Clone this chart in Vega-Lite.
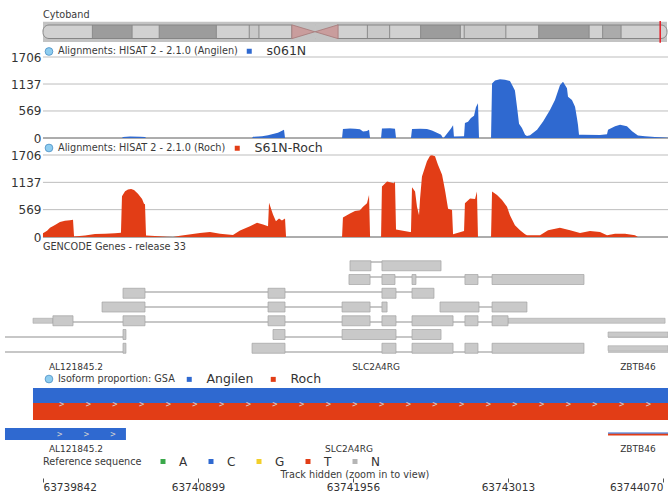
{
  "$schema": "https://vega.github.io/schema/vega-lite/v6.json",
  "width": 668,
  "height": 492,
  "autosize": "none",
  "padding": 0,
  "background": "#ffffff",
  "config": {
    "view": {"stroke": null},
    "font": "DejaVu Sans",
    "legend": {
      "orient": "none",
      "direction": "horizontal",
      "titleOrient": "left",
      "titleFontWeight": "normal",
      "titleFontSize": 9.7,
      "titleColor": "#3a3a3a",
      "titleLimit": 400,
      "labelFontSize": 12.5,
      "labelColor": "#333333",
      "labelLimit": 200,
      "symbolType": "square",
      "symbolSize": 25,
      "symbolStrokeWidth": 0,
      "symbolOpacity": 1,
      "labelOffset": 11,
      "titlePadding": 5,
      "padding": 0
    }
  },
  "datasets": {
    "chromosome": [{"chrom": "chr20", "start": 0, "end": 64444167}],
    "viewport": [{"chrom": "chr20", "start": 63739549, "end": 63744105}],
    "cytobands": [
      {"name": "p13", "start": 0, "end": 5100000, "stain": "gneg"},
      {"name": "p12.3", "start": 5100000, "end": 9200000, "stain": "gpos75"},
      {"name": "p12.2", "start": 9200000, "end": 12000000, "stain": "gneg"},
      {"name": "p12.1", "start": 12000000, "end": 17900000, "stain": "gpos75"},
      {"name": "p11.23", "start": 17900000, "end": 21300000, "stain": "gneg"},
      {"name": "p11.22", "start": 21300000, "end": 22300000, "stain": "gpos25"},
      {"name": "p11.21", "start": 22300000, "end": 25700000, "stain": "gneg"},
      {"name": "p11.1", "start": 25700000, "end": 28100000, "stain": "acen"},
      {"name": "q11.1", "start": 28100000, "end": 30400000, "stain": "acen"},
      {"name": "q11.21", "start": 30400000, "end": 33500000, "stain": "gneg"},
      {"name": "q11.22", "start": 33500000, "end": 35800000, "stain": "gpos25"},
      {"name": "q11.23", "start": 35800000, "end": 39000000, "stain": "gneg"},
      {"name": "q12", "start": 39000000, "end": 43100000, "stain": "gpos75"},
      {"name": "q13.11", "start": 43100000, "end": 43500000, "stain": "gneg"},
      {"name": "q13.12", "start": 43500000, "end": 47800000, "stain": "gpos25"},
      {"name": "q13.13", "start": 47800000, "end": 51200000, "stain": "gneg"},
      {"name": "q13.2", "start": 51200000, "end": 56400000, "stain": "gpos75"},
      {"name": "q13.31", "start": 56400000, "end": 57800000, "stain": "gneg"},
      {"name": "q13.32", "start": 57800000, "end": 59700000, "stain": "gpos50"},
      {"name": "q13.33", "start": 59700000, "end": 64444167, "stain": "gneg"}
    ],
    "ticks": [{"tick": 0}, {"tick": 569}, {"tick": 1137}, {"tick": 1706}],
    "coverage": [
      {"sample": "s061N", "pos": 63739842, "depth": 0},
      {"sample": "s061N", "pos": 63740381, "depth": 0},
      {"sample": "s061N", "pos": 63740388, "depth": 20},
      {"sample": "s061N", "pos": 63740436, "depth": 30},
      {"sample": "s061N", "pos": 63740504, "depth": 28},
      {"sample": "s061N", "pos": 63740538, "depth": 20},
      {"sample": "s061N", "pos": 63740545, "depth": 0},
      {"sample": "s061N", "pos": 63741268, "depth": 0},
      {"sample": "s061N", "pos": 63741275, "depth": 25},
      {"sample": "s061N", "pos": 63741336, "depth": 35},
      {"sample": "s061N", "pos": 63741377, "depth": 60},
      {"sample": "s061N", "pos": 63741404, "depth": 80},
      {"sample": "s061N", "pos": 63741445, "depth": 110},
      {"sample": "s061N", "pos": 63741486, "depth": 175},
      {"sample": "s061N", "pos": 63741493, "depth": 0},
      {"sample": "s061N", "pos": 63741882, "depth": 0},
      {"sample": "s061N", "pos": 63741888, "depth": 190},
      {"sample": "s061N", "pos": 63741936, "depth": 200},
      {"sample": "s061N", "pos": 63741970, "depth": 195},
      {"sample": "s061N", "pos": 63742004, "depth": 185},
      {"sample": "s061N", "pos": 63742025, "depth": 135},
      {"sample": "s061N", "pos": 63742052, "depth": 150},
      {"sample": "s061N", "pos": 63742066, "depth": 175},
      {"sample": "s061N", "pos": 63742073, "depth": 0},
      {"sample": "s061N", "pos": 63742148, "depth": 0},
      {"sample": "s061N", "pos": 63742154, "depth": 200},
      {"sample": "s061N", "pos": 63742209, "depth": 205},
      {"sample": "s061N", "pos": 63742243, "depth": 195},
      {"sample": "s061N", "pos": 63742250, "depth": 0},
      {"sample": "s061N", "pos": 63742352, "depth": 0},
      {"sample": "s061N", "pos": 63742359, "depth": 190},
      {"sample": "s061N", "pos": 63742414, "depth": 195},
      {"sample": "s061N", "pos": 63742461, "depth": 190},
      {"sample": "s061N", "pos": 63742495, "depth": 160},
      {"sample": "s061N", "pos": 63742536, "depth": 100},
      {"sample": "s061N", "pos": 63742557, "depth": 70},
      {"sample": "s061N", "pos": 63742570, "depth": 0},
      {"sample": "s061N", "pos": 63742577, "depth": 10},
      {"sample": "s061N", "pos": 63742605, "depth": 120},
      {"sample": "s061N", "pos": 63742625, "depth": 200},
      {"sample": "s061N", "pos": 63742639, "depth": 270},
      {"sample": "s061N", "pos": 63742645, "depth": 30},
      {"sample": "s061N", "pos": 63742714, "depth": 35},
      {"sample": "s061N", "pos": 63742720, "depth": 315},
      {"sample": "s061N", "pos": 63742741, "depth": 340},
      {"sample": "s061N", "pos": 63742761, "depth": 420},
      {"sample": "s061N", "pos": 63742782, "depth": 470},
      {"sample": "s061N", "pos": 63742795, "depth": 650},
      {"sample": "s061N", "pos": 63742809, "depth": 730},
      {"sample": "s061N", "pos": 63742816, "depth": 0},
      {"sample": "s061N", "pos": 63742898, "depth": 0},
      {"sample": "s061N", "pos": 63742905, "depth": 1150},
      {"sample": "s061N", "pos": 63742925, "depth": 1210},
      {"sample": "s061N", "pos": 63742959, "depth": 1235},
      {"sample": "s061N", "pos": 63742993, "depth": 1225},
      {"sample": "s061N", "pos": 63743027, "depth": 1200},
      {"sample": "s061N", "pos": 63743041, "depth": 1120},
      {"sample": "s061N", "pos": 63743061, "depth": 1000},
      {"sample": "s061N", "pos": 63743075, "depth": 660},
      {"sample": "s061N", "pos": 63743089, "depth": 300},
      {"sample": "s061N", "pos": 63743109, "depth": 210},
      {"sample": "s061N", "pos": 63743130, "depth": 70},
      {"sample": "s061N", "pos": 63743143, "depth": 40},
      {"sample": "s061N", "pos": 63743164, "depth": 60},
      {"sample": "s061N", "pos": 63743212, "depth": 175},
      {"sample": "s061N", "pos": 63743253, "depth": 350},
      {"sample": "s061N", "pos": 63743300, "depth": 590},
      {"sample": "s061N", "pos": 63743334, "depth": 800},
      {"sample": "s061N", "pos": 63743368, "depth": 1110},
      {"sample": "s061N", "pos": 63743389, "depth": 1185},
      {"sample": "s061N", "pos": 63743416, "depth": 1050},
      {"sample": "s061N", "pos": 63743423, "depth": 870},
      {"sample": "s061N", "pos": 63743450, "depth": 800},
      {"sample": "s061N", "pos": 63743471, "depth": 660},
      {"sample": "s061N", "pos": 63743484, "depth": 420},
      {"sample": "s061N", "pos": 63743491, "depth": 280},
      {"sample": "s061N", "pos": 63743498, "depth": 70},
      {"sample": "s061N", "pos": 63743525, "depth": 70},
      {"sample": "s061N", "pos": 63743641, "depth": 65},
      {"sample": "s061N", "pos": 63743689, "depth": 80},
      {"sample": "s061N", "pos": 63743696, "depth": 175},
      {"sample": "s061N", "pos": 63743744, "depth": 245},
      {"sample": "s061N", "pos": 63743778, "depth": 280},
      {"sample": "s061N", "pos": 63743825, "depth": 245},
      {"sample": "s061N", "pos": 63743860, "depth": 140},
      {"sample": "s061N", "pos": 63743900, "depth": 55},
      {"sample": "s061N", "pos": 63743948, "depth": 35},
      {"sample": "s061N", "pos": 63744016, "depth": 20},
      {"sample": "s061N", "pos": 63744085, "depth": 10},
      {"sample": "s061N", "pos": 63744105, "depth": 5},
      {"sample": "S61N-Roch", "pos": 63739842, "depth": 80},
      {"sample": "S61N-Roch", "pos": 63739870, "depth": 130},
      {"sample": "S61N-Roch", "pos": 63739890, "depth": 190},
      {"sample": "S61N-Roch", "pos": 63739924, "depth": 250},
      {"sample": "S61N-Roch", "pos": 63739958, "depth": 310},
      {"sample": "S61N-Roch", "pos": 63739992, "depth": 340},
      {"sample": "S61N-Roch", "pos": 63740026, "depth": 350},
      {"sample": "S61N-Roch", "pos": 63740047, "depth": 360},
      {"sample": "S61N-Roch", "pos": 63740054, "depth": 10},
      {"sample": "S61N-Roch", "pos": 63740129, "depth": 30},
      {"sample": "S61N-Roch", "pos": 63740197, "depth": 60},
      {"sample": "S61N-Roch", "pos": 63740265, "depth": 70},
      {"sample": "S61N-Roch", "pos": 63740333, "depth": 80},
      {"sample": "S61N-Roch", "pos": 63740374, "depth": 90},
      {"sample": "S61N-Roch", "pos": 63740381, "depth": 850},
      {"sample": "S61N-Roch", "pos": 63740402, "depth": 950},
      {"sample": "S61N-Roch", "pos": 63740422, "depth": 990},
      {"sample": "S61N-Roch", "pos": 63740443, "depth": 1000},
      {"sample": "S61N-Roch", "pos": 63740463, "depth": 980},
      {"sample": "S61N-Roch", "pos": 63740490, "depth": 900},
      {"sample": "S61N-Roch", "pos": 63740518, "depth": 790},
      {"sample": "S61N-Roch", "pos": 63740531, "depth": 690},
      {"sample": "S61N-Roch", "pos": 63740538, "depth": 680},
      {"sample": "S61N-Roch", "pos": 63740545, "depth": 30},
      {"sample": "S61N-Roch", "pos": 63740606, "depth": 20},
      {"sample": "S61N-Roch", "pos": 63740688, "depth": 5},
      {"sample": "S61N-Roch", "pos": 63740729, "depth": 0},
      {"sample": "S61N-Roch", "pos": 63740777, "depth": 28},
      {"sample": "S61N-Roch", "pos": 63740913, "depth": 84},
      {"sample": "S61N-Roch", "pos": 63740981, "depth": 105},
      {"sample": "S61N-Roch", "pos": 63741050, "depth": 70},
      {"sample": "S61N-Roch", "pos": 63741138, "depth": 42},
      {"sample": "S61N-Roch", "pos": 63741186, "depth": 133},
      {"sample": "S61N-Roch", "pos": 63741254, "depth": 225},
      {"sample": "S61N-Roch", "pos": 63741302, "depth": 295},
      {"sample": "S61N-Roch", "pos": 63741343, "depth": 260},
      {"sample": "S61N-Roch", "pos": 63741377, "depth": 225},
      {"sample": "S61N-Roch", "pos": 63741384, "depth": 714},
      {"sample": "S61N-Roch", "pos": 63741411, "depth": 470},
      {"sample": "S61N-Roch", "pos": 63741431, "depth": 330},
      {"sample": "S61N-Roch", "pos": 63741452, "depth": 385},
      {"sample": "S61N-Roch", "pos": 63741472, "depth": 345},
      {"sample": "S61N-Roch", "pos": 63741493, "depth": 385},
      {"sample": "S61N-Roch", "pos": 63741500, "depth": 0},
      {"sample": "S61N-Roch", "pos": 63741882, "depth": 0},
      {"sample": "S61N-Roch", "pos": 63741888, "depth": 405},
      {"sample": "S61N-Roch", "pos": 63741936, "depth": 490},
      {"sample": "S61N-Roch", "pos": 63741970, "depth": 540},
      {"sample": "S61N-Roch", "pos": 63742004, "depth": 555},
      {"sample": "S61N-Roch", "pos": 63742025, "depth": 630},
      {"sample": "S61N-Roch", "pos": 63742052, "depth": 700},
      {"sample": "S61N-Roch", "pos": 63742066, "depth": 875},
      {"sample": "S61N-Roch", "pos": 63742073, "depth": 0},
      {"sample": "S61N-Roch", "pos": 63742148, "depth": 0},
      {"sample": "S61N-Roch", "pos": 63742154, "depth": 1050},
      {"sample": "S61N-Roch", "pos": 63742189, "depth": 1155},
      {"sample": "S61N-Roch", "pos": 63742236, "depth": 1120},
      {"sample": "S61N-Roch", "pos": 63742243, "depth": 1155},
      {"sample": "S61N-Roch", "pos": 63742250, "depth": 155},
      {"sample": "S61N-Roch", "pos": 63742345, "depth": 105},
      {"sample": "S61N-Roch", "pos": 63742352, "depth": 105},
      {"sample": "S61N-Roch", "pos": 63742359, "depth": 1035},
      {"sample": "S61N-Roch", "pos": 63742380, "depth": 945},
      {"sample": "S61N-Roch", "pos": 63742393, "depth": 630},
      {"sample": "S61N-Roch", "pos": 63742407, "depth": 455},
      {"sample": "S61N-Roch", "pos": 63742414, "depth": 800},
      {"sample": "S61N-Roch", "pos": 63742427, "depth": 1260},
      {"sample": "S61N-Roch", "pos": 63742461, "depth": 1575},
      {"sample": "S61N-Roch", "pos": 63742482, "depth": 1690},
      {"sample": "S61N-Roch", "pos": 63742495, "depth": 1700},
      {"sample": "S61N-Roch", "pos": 63742516, "depth": 1680},
      {"sample": "S61N-Roch", "pos": 63742536, "depth": 1505},
      {"sample": "S61N-Roch", "pos": 63742564, "depth": 1295},
      {"sample": "S61N-Roch", "pos": 63742584, "depth": 980},
      {"sample": "S61N-Roch", "pos": 63742605, "depth": 590},
      {"sample": "S61N-Roch", "pos": 63742632, "depth": 560},
      {"sample": "S61N-Roch", "pos": 63742639, "depth": 56},
      {"sample": "S61N-Roch", "pos": 63742714, "depth": 126},
      {"sample": "S61N-Roch", "pos": 63742720, "depth": 700},
      {"sample": "S61N-Roch", "pos": 63742755, "depth": 800},
      {"sample": "S61N-Roch", "pos": 63742789, "depth": 790},
      {"sample": "S61N-Roch", "pos": 63742802, "depth": 945},
      {"sample": "S61N-Roch", "pos": 63742809, "depth": 0},
      {"sample": "S61N-Roch", "pos": 63742898, "depth": 0},
      {"sample": "S61N-Roch", "pos": 63742905, "depth": 945},
      {"sample": "S61N-Roch", "pos": 63742939, "depth": 875},
      {"sample": "S61N-Roch", "pos": 63742973, "depth": 770},
      {"sample": "S61N-Roch", "pos": 63743007, "depth": 630},
      {"sample": "S61N-Roch", "pos": 63743027, "depth": 455},
      {"sample": "S61N-Roch", "pos": 63743061, "depth": 245},
      {"sample": "S61N-Roch", "pos": 63743096, "depth": 140},
      {"sample": "S61N-Roch", "pos": 63743130, "depth": 56},
      {"sample": "S61N-Roch", "pos": 63743143, "depth": 35},
      {"sample": "S61N-Roch", "pos": 63743232, "depth": 35},
      {"sample": "S61N-Roch", "pos": 63743287, "depth": 140},
      {"sample": "S61N-Roch", "pos": 63743368, "depth": 195},
      {"sample": "S61N-Roch", "pos": 63743437, "depth": 140},
      {"sample": "S61N-Roch", "pos": 63743505, "depth": 84},
      {"sample": "S61N-Roch", "pos": 63743573, "depth": 126},
      {"sample": "S61N-Roch", "pos": 63743641, "depth": 105},
      {"sample": "S61N-Roch", "pos": 63743689, "depth": 35},
      {"sample": "S61N-Roch", "pos": 63743744, "depth": 70},
      {"sample": "S61N-Roch", "pos": 63743812, "depth": 70},
      {"sample": "S61N-Roch", "pos": 63743880, "depth": 35},
      {"sample": "S61N-Roch", "pos": 63743900, "depth": 0},
      {"sample": "S61N-Roch", "pos": 63744105, "depth": 0}
    ],
    "transcripts": [
      {"gene": "SLC2A4RG", "row": 1, "start": 63741936, "end": 63742557},
      {"gene": "SLC2A4RG", "row": 2, "start": 63741929, "end": 63743532},
      {"gene": "SLC2A4RG", "row": 3, "start": 63740388, "end": 63742509},
      {"gene": "SLC2A4RG", "row": 4, "start": 63740245, "end": 63742189},
      {"gene": "SLC2A4RG", "row": 4, "start": 63742550, "end": 63743143},
      {"gene": "SLC2A4RG", "row": 5, "start": 63739774, "end": 63744085},
      {"gene": "AL121845.2", "row": 6, "start": 63739583, "end": 63740408},
      {"gene": "SLC2A4RG", "row": 6, "start": 63741411, "end": 63742557},
      {"gene": "ZBTB46", "row": 6, "start": 63743696, "end": 63744105},
      {"gene": "AL121845.2", "row": 7, "start": 63739583, "end": 63740408},
      {"gene": "SLC2A4RG", "row": 7, "start": 63741268, "end": 63743532},
      {"gene": "ZBTB46", "row": 7, "start": 63743696, "end": 63744105}
    ],
    "exons": [
      {"row": 1, "start": 63741936, "end": 63742079, "part": "exon"},
      {"row": 1, "start": 63742154, "end": 63742557, "part": "exon"},
      {"row": 2, "start": 63741929, "end": 63742073, "part": "exon"},
      {"row": 2, "start": 63742154, "end": 63742243, "part": "exon"},
      {"row": 2, "start": 63742359, "end": 63742386, "part": "exon"},
      {"row": 2, "start": 63742720, "end": 63742809, "part": "exon"},
      {"row": 2, "start": 63742905, "end": 63743532, "part": "exon"},
      {"row": 3, "start": 63740388, "end": 63740538, "part": "exon"},
      {"row": 3, "start": 63741377, "end": 63741493, "part": "exon"},
      {"row": 3, "start": 63742154, "end": 63742250, "part": "exon"},
      {"row": 3, "start": 63742359, "end": 63742509, "part": "exon"},
      {"row": 4, "start": 63740245, "end": 63740538, "part": "exon"},
      {"row": 4, "start": 63741377, "end": 63741493, "part": "exon"},
      {"row": 4, "start": 63741882, "end": 63742073, "part": "exon"},
      {"row": 4, "start": 63742154, "end": 63742189, "part": "exon"},
      {"row": 4, "start": 63742550, "end": 63742816, "part": "exon"},
      {"row": 4, "start": 63742905, "end": 63743143, "part": "exon"},
      {"row": 5, "start": 63739774, "end": 63739910, "part": "UTR"},
      {"row": 5, "start": 63739910, "end": 63740047, "part": "exon"},
      {"row": 5, "start": 63740388, "end": 63740538, "part": "exon"},
      {"row": 5, "start": 63741377, "end": 63741493, "part": "exon"},
      {"row": 5, "start": 63741882, "end": 63742073, "part": "exon"},
      {"row": 5, "start": 63742154, "end": 63742250, "part": "exon"},
      {"row": 5, "start": 63742359, "end": 63742639, "part": "exon"},
      {"row": 5, "start": 63742720, "end": 63742809, "part": "exon"},
      {"row": 5, "start": 63742905, "end": 63743014, "part": "exon"},
      {"row": 5, "start": 63743014, "end": 63744085, "part": "UTR"},
      {"row": 6, "start": 63740388, "end": 63740408, "part": "exon"},
      {"row": 6, "start": 63741411, "end": 63741493, "part": "exon"},
      {"row": 6, "start": 63741882, "end": 63742250, "part": "exon"},
      {"row": 6, "start": 63742359, "end": 63742557, "part": "exon"},
      {"row": 6, "start": 63743696, "end": 63744105, "part": "UTR"},
      {"row": 7, "start": 63740388, "end": 63740408, "part": "exon"},
      {"row": 7, "start": 63741268, "end": 63741493, "part": "exon"},
      {"row": 7, "start": 63742154, "end": 63742250, "part": "exon"},
      {"row": 7, "start": 63742359, "end": 63742639, "part": "exon"},
      {"row": 7, "start": 63742720, "end": 63742809, "part": "exon"},
      {"row": 7, "start": 63742905, "end": 63743532, "part": "exon"},
      {"row": 7, "start": 63743696, "end": 63744105, "part": "UTR"}
    ],
    "gene_labels": [
      {"gene": "AL121845.2", "pos": 63740067},
      {"gene": "SLC2A4RG", "pos": 63742114},
      {"gene": "ZBTB46", "pos": 63743900}
    ],
    "isoforms": [
      {"gene": "SLC2A4RG", "sample": "Angilen", "start": 63739774, "end": 63744105, "proportion": 0.47, "lane": 1},
      {"gene": "SLC2A4RG", "sample": "Roch", "start": 63739774, "end": 63744105, "proportion": 0.53, "lane": 1},
      {"gene": "AL121845.2", "sample": "Angilen", "start": 63739583, "end": 63740408, "proportion": 0.375, "lane": 2},
      {"gene": "AL121845.2", "sample": "Roch", "start": 63739583, "end": 63740408, "proportion": 0, "lane": 2},
      {"gene": "ZBTB46", "sample": "Angilen", "start": 63743696, "end": 63744105, "proportion": 0.04, "lane": 2},
      {"gene": "ZBTB46", "sample": "Roch", "start": 63743696, "end": 63744105, "proportion": 0.05, "lane": 2}
    ],
    "isoform_labels": [
      {"gene": "AL121845.2", "pos": 63740067},
      {"gene": "SLC2A4RG", "pos": 63741929},
      {"gene": "ZBTB46", "pos": 63743900}
    ],
    "bases": [
      {"base": "A"}, {"base": "C"}, {"base": "G"}, {"base": "T"}, {"base": "N"}
    ]
  },
  "resolve": {"scale": {"x": "independent", "y": "independent", "color": "independent", "shape": "independent"}},
  "layer": [
    {
      "data": {"name": "chromosome"},
      "mark": {"type": "rect", "color": "#c3c3c3"},
      "encoding": {
        "x": {"field": "start", "type": "quantitative", "scale": {"domain": [0, 64444167], "range": [43, 667]}, "axis": null},
        "x2": {"field": "end"},
        "y": {"datum": -0.25, "type": "quantitative", "scale": {"domain": [0, 1], "range": [38.5, 25]}, "axis": null},
        "y2": {"datum": 1.25}
      }
    },
    {
      "data": {"name": "chromosome"},
      "mark": {"type": "rect", "color": "#d1d1d1", "cornerRadius": 6},
      "encoding": {
        "x": {"field": "start", "type": "quantitative", "scale": {"domain": [0, 64444167], "range": [43, 667]}, "axis": null},
        "x2": {"field": "end"},
        "y": {"datum": 0, "type": "quantitative", "scale": {"domain": [0, 1], "range": [38.5, 25]}, "axis": null},
        "y2": {"datum": 1}
      }
    },
    {
      "data": {"name": "cytobands"},
      "transform": [{"filter": "datum.stain !== 'gneg' && datum.stain !== 'acen'"}],
      "mark": {"type": "rect"},
      "encoding": {
        "x": {"field": "start", "type": "quantitative", "scale": {"domain": [0, 64444167], "range": [43, 667]}, "axis": null},
        "x2": {"field": "end"},
        "y": {"datum": 0, "type": "quantitative", "scale": {"domain": [0, 1], "range": [38.5, 25]}, "axis": null},
        "y2": {"datum": 1},
        "color": {"field": "stain", "type": "nominal", "scale": {"domain": ["gpos25", "gpos50", "gpos75"], "range": ["#c9c9c9", "#ababab", "#9c9c9c"]}, "legend": null}
      }
    },
    {
      "data": {"name": "cytobands"},
      "transform": [{"filter": "datum.start > 0 && datum.name !== 'q11.1'"}],
      "mark": {"type": "rule", "color": "#8a8a8a", "strokeWidth": 1},
      "encoding": {
        "x": {"field": "start", "type": "quantitative", "scale": {"domain": [0, 64444167], "range": [43, 667]}, "axis": null},
        "y": {"datum": 0, "type": "quantitative", "scale": {"domain": [0, 1], "range": [38.5, 25]}, "axis": null},
        "y2": {"datum": 1}
      }
    },
    {
      "data": {"name": "chromosome"},
      "mark": {"type": "rect", "filled": false, "stroke": "#858585", "strokeWidth": 1, "cornerRadius": 6},
      "encoding": {
        "x": {"field": "start", "type": "quantitative", "scale": {"domain": [0, 64444167], "range": [43, 667]}, "axis": null},
        "x2": {"field": "end"},
        "y": {"datum": 0, "type": "quantitative", "scale": {"domain": [0, 1], "range": [38.5, 25]}, "axis": null},
        "y2": {"datum": 1}
      }
    },
    {
      "data": {"name": "cytobands"},
      "transform": [{"filter": "datum.stain === 'acen'"}],
      "mark": {"type": "rect", "color": "#c3c3c3"},
      "encoding": {
        "x": {"field": "start", "type": "quantitative", "scale": {"domain": [0, 64444167], "range": [43, 667]}, "axis": null},
        "x2": {"field": "end"},
        "y": {"datum": -0.08, "type": "quantitative", "scale": {"domain": [0, 1], "range": [38.5, 25]}, "axis": null},
        "y2": {"datum": 1.08}
      }
    },
    {
      "data": {"name": "cytobands"},
      "transform": [{"filter": "datum.stain === 'acen'"}],
      "mark": {"type": "point", "filled": true, "size": 530, "opacity": 1, "fill": "#c99d9d", "stroke": "#a57878", "strokeWidth": 0.8},
      "encoding": {
        "x": {"field": "start", "type": "quantitative", "scale": {"domain": [0, 64444167], "range": [43, 667]}, "axis": null},
        "y": {"datum": 0.5, "type": "quantitative", "scale": {"domain": [0, 1], "range": [38.5, 25]}, "axis": null},
        "shape": {"field": "name", "type": "nominal", "scale": {"domain": ["p11.1", "q11.1"], "range": ["M0,-0.6L2,0L0,0.6Z", "M0,0L2,-0.6L2,0.6Z"]}, "legend": null}
      }
    },
    {
      "data": {"name": "viewport"},
      "mark": {"type": "rect", "color": "#e6202a", "stroke": "#e6202a", "strokeWidth": 1.5},
      "encoding": {
        "x": {"field": "start", "type": "quantitative", "scale": {"domain": [0, 64444167], "range": [43, 667]}, "axis": null},
        "x2": {"field": "end"},
        "y": {"datum": -0.25, "type": "quantitative", "scale": {"domain": [0, 1], "range": [38.5, 25]}, "axis": null},
        "y2": {"datum": 1.25}
      }
    },
    {
      "data": {"values": [{"track": "Cytoband"}]},
      "mark": {"type": "text", "align": "left", "baseline": "middle", "fontSize": 9.7, "color": "#3a3a3a"},
      "encoding": {
        "x": {"datum": 0, "type": "quantitative", "scale": {"domain": [0, 64444167], "range": [43, 667]}, "axis": null},
        "y": {"datum": 1.74, "type": "quantitative", "scale": {"domain": [0, 1], "range": [38.5, 25]}, "axis": null},
        "text": {"field": "track"}
      }
    },
    {
      "data": {"name": "ticks"},
      "mark": {"type": "rule", "strokeWidth": 1},
      "encoding": {
        "x": {"datum": 63739842, "type": "quantitative", "scale": {"domain": [63739549, 63744105]}, "axis": null},
        "x2": {"datum": 63744105},
        "y": {"field": "tick", "type": "quantitative", "scale": {"domain": [0, 1706], "range": [138, 57]}, "axis": null},
        "color": {"condition": {"test": "datum.tick === 0", "value": "#5a5a5a"}, "value": "#bdbdbd"}
      }
    },
    {
      "data": {"name": "coverage"},
      "transform": [{"filter": "datum.sample === 's061N'"}],
      "mark": {"type": "area", "opacity": 1, "interpolate": "linear"},
      "encoding": {
        "x": {"field": "pos", "type": "quantitative", "scale": {"domain": [63739549, 63744105]}, "axis": null},
        "y": {"field": "depth", "type": "quantitative", "stack": null, "scale": {"domain": [0, 1706], "range": [138, 57]},
              "axis": {"orient": "left", "offset": -43, "values": [0, 569, 1137, 1706], "format": "d", "domain": false, "ticks": false, "grid": false, "labelFontSize": 12, "labelColor": "#333333", "labelPadding": 2, "title": null}},
        "color": {"field": "sample", "type": "nominal", "scale": {"range": ["#2f69d0"]}, "legend": {"title": "Alignments: HISAT 2 - 2.1.0 (Angilen)", "legendX": 58, "legendY": 45}}
      }
    },
    {
      "data": {"values": [{"icon": "track"}]},
      "mark": {"type": "point", "filled": true, "size": 60, "fill": "#8ecdf0", "stroke": "#4b8fc4", "strokeWidth": 0.8, "opacity": 1},
      "encoding": {
        "x": {"datum": 63739883, "type": "quantitative", "scale": {"domain": [63739549, 63744105]}, "axis": null},
        "y": {"datum": 1822, "type": "quantitative", "scale": {"domain": [0, 1706], "range": [138, 57]}, "axis": null}
      }
    },
    {
      "data": {"name": "ticks"},
      "mark": {"type": "rule", "strokeWidth": 1},
      "encoding": {
        "x": {"datum": 63739842, "type": "quantitative", "scale": {"domain": [63739549, 63744105]}, "axis": null},
        "x2": {"datum": 63744105},
        "y": {"field": "tick", "type": "quantitative", "scale": {"domain": [0, 1706], "range": [237, 155]}, "axis": null},
        "color": {"condition": {"test": "datum.tick === 0", "value": "#5a5a5a"}, "value": "#bdbdbd"}
      }
    },
    {
      "data": {"name": "coverage"},
      "transform": [{"filter": "datum.sample === 'S61N-Roch'"}],
      "mark": {"type": "area", "opacity": 1, "interpolate": "linear"},
      "encoding": {
        "x": {"field": "pos", "type": "quantitative", "scale": {"domain": [63739549, 63744105]}, "axis": null},
        "y": {"field": "depth", "type": "quantitative", "stack": null, "scale": {"domain": [0, 1706], "range": [237, 155]},
              "axis": {"orient": "left", "offset": -43, "values": [0, 569, 1137, 1706], "format": "d", "domain": false, "ticks": false, "grid": false, "labelFontSize": 12, "labelColor": "#333333", "labelPadding": 2, "title": null}},
        "color": {"field": "sample", "type": "nominal", "scale": {"range": ["#e23d16"]}, "legend": {"title": "Alignments: HISAT 2 - 2.1.0 (Roch)", "legendX": 58, "legendY": 142}}
      }
    },
    {
      "data": {"values": [{"icon": "track"}]},
      "mark": {"type": "point", "filled": true, "size": 60, "fill": "#8ecdf0", "stroke": "#4b8fc4", "strokeWidth": 0.8, "opacity": 1},
      "encoding": {
        "x": {"datum": 63739883, "type": "quantitative", "scale": {"domain": [63739549, 63744105]}, "axis": null},
        "y": {"datum": 1852, "type": "quantitative", "scale": {"domain": [0, 1706], "range": [237, 155]}, "axis": null}
      }
    },
    {
      "data": {"name": "transcripts"},
      "mark": {"type": "rule", "color": "#8f8f8f", "strokeWidth": 1.2},
      "encoding": {
        "x": {"field": "start", "type": "quantitative", "scale": {"domain": [63739549, 63744105]},
              "axis": {"orient": "bottom", "offset": -14, "values": [63739842, 63740899, 63741956, 63743013, 63744070], "format": "d", "labelFlush": 50, "labelOverlap": false, "domain": false, "grid": false, "ticks": true, "tickSize": 4, "tickColor": "#555555", "labelFontSize": 10.5, "labelColor": "#333333", "labelPadding": 0, "title": null}},
        "x2": {"field": "end"},
        "y": {"field": "row", "type": "quantitative", "scale": {"domain": [0, 8], "range": [247, 367]}, "axis": null}
      }
    },
    {
      "data": {"name": "exons"},
      "transform": [{"filter": "datum.part === 'UTR'"}],
      "mark": {"type": "bar", "orient": "horizontal", "size": 5, "fill": "#c9c9c9", "stroke": "#a8a8a8", "strokeWidth": 0.6},
      "encoding": {
        "x": {"field": "start", "type": "quantitative", "scale": {"domain": [63739549, 63744105]}, "axis": null},
        "x2": {"field": "end"},
        "y": {"field": "row", "type": "quantitative", "scale": {"domain": [0, 8], "range": [247, 367]}, "axis": null}
      }
    },
    {
      "data": {"name": "exons"},
      "transform": [{"filter": "datum.part === 'exon'"}],
      "mark": {"type": "bar", "orient": "horizontal", "size": 10, "fill": "#c9c9c9", "stroke": "#a3a3a3", "strokeWidth": 0.7},
      "encoding": {
        "x": {"field": "start", "type": "quantitative", "scale": {"domain": [63739549, 63744105]}, "axis": null},
        "x2": {"field": "end"},
        "y": {"field": "row", "type": "quantitative", "scale": {"domain": [0, 8], "range": [247, 367]}, "axis": null}
      }
    },
    {
      "data": {"name": "gene_labels"},
      "mark": {"type": "text", "align": "center", "baseline": "middle", "fontSize": 9, "color": "#333333"},
      "encoding": {
        "x": {"field": "pos", "type": "quantitative", "scale": {"domain": [63739549, 63744105]}, "axis": null},
        "y": {"datum": 8, "type": "quantitative", "scale": {"domain": [0, 8], "range": [247, 367]}, "axis": null},
        "text": {"field": "gene"}
      }
    },
    {
      "data": {"values": [{"track": "GENCODE Genes - release 33"}]},
      "mark": {"type": "text", "align": "left", "baseline": "middle", "fontSize": 9.7, "color": "#3a3a3a"},
      "encoding": {
        "x": {"datum": 63739842, "type": "quantitative", "scale": {"domain": [63739549, 63744105]}, "axis": null},
        "y": {"datum": 0, "type": "quantitative", "scale": {"domain": [0, 8], "range": [247, 367]}, "axis": null},
        "text": {"field": "track"}
      }
    },
    {
      "data": {"name": "isoforms"},
      "transform": [
        {"filter": "datum.lane === 1"},
        {"stack": "proportion", "groupby": ["gene"], "sort": [{"field": "sample", "order": "descending"}], "as": ["p0", "p1"], "offset": "center"}
      ],
      "mark": {"type": "rect"},
      "encoding": {
        "x": {"field": "start", "type": "quantitative", "scale": {"domain": [63739549, 63744105]}, "axis": null},
        "x2": {"field": "end"},
        "y": {"field": "p0", "type": "quantitative", "scale": {"domain": [0, 1], "range": [420, 388]}, "axis": null},
        "y2": {"field": "p1"},
        "color": {"field": "sample", "type": "nominal", "scale": {"domain": ["Angilen", "Roch"], "range": ["#2f69d0", "#e23d16"]},
                  "legend": {"title": "Isoform proportion: GSA", "legendX": 58, "legendY": 373, "columnPadding": 13, "titlePadding": 8}}
      }
    },
    {
      "data": {"name": "isoforms"},
      "transform": [{"filter": "datum.lane === 1 && datum.sample === 'Angilen'"}],
      "mark": {"type": "text", "align": "left", "baseline": "middle", "font": "DejaVu Sans Mono", "fontSize": 8.87, "dx": 26, "color": "#d2d2d2"},
      "encoding": {
        "x": {"field": "start", "type": "quantitative", "scale": {"domain": [63739549, 63744105]}, "axis": null},
        "y": {"datum": 0.5, "type": "quantitative", "scale": {"domain": [0, 1], "range": [420, 388]}, "axis": null},
        "text": {"value": ">\u00a0\u00a0\u00a0\u00a0>\u00a0\u00a0\u00a0\u00a0>\u00a0\u00a0\u00a0\u00a0>\u00a0\u00a0\u00a0\u00a0>\u00a0\u00a0\u00a0\u00a0>\u00a0\u00a0\u00a0\u00a0>\u00a0\u00a0\u00a0\u00a0>\u00a0\u00a0\u00a0\u00a0>\u00a0\u00a0\u00a0\u00a0>\u00a0\u00a0\u00a0\u00a0>\u00a0\u00a0\u00a0\u00a0>\u00a0\u00a0\u00a0\u00a0>\u00a0\u00a0\u00a0\u00a0>\u00a0\u00a0\u00a0\u00a0>\u00a0\u00a0\u00a0\u00a0>\u00a0\u00a0\u00a0\u00a0>\u00a0\u00a0\u00a0\u00a0>\u00a0\u00a0\u00a0\u00a0>\u00a0\u00a0\u00a0\u00a0>\u00a0\u00a0\u00a0\u00a0>\u00a0\u00a0\u00a0\u00a0>\u00a0\u00a0\u00a0\u00a0>"}
      }
    },
    {
      "data": {"values": [{"icon": "track"}]},
      "mark": {"type": "point", "filled": true, "size": 60, "fill": "#8ecdf0", "stroke": "#4b8fc4", "strokeWidth": 0.8, "opacity": 1},
      "encoding": {
        "x": {"datum": 63739883, "type": "quantitative", "scale": {"domain": [63739549, 63744105]}, "axis": null},
        "y": {"datum": 1.28, "type": "quantitative", "scale": {"domain": [0, 1], "range": [420, 388]}, "axis": null}
      }
    },
    {
      "data": {"name": "isoforms"},
      "transform": [
        {"filter": "datum.lane === 2"},
        {"stack": "proportion", "groupby": ["gene"], "sort": [{"field": "sample", "order": "descending"}], "as": ["p0", "p1"], "offset": "center"}
      ],
      "mark": {"type": "rect"},
      "encoding": {
        "x": {"field": "start", "type": "quantitative", "scale": {"domain": [63739549, 63744105]}, "axis": null},
        "x2": {"field": "end"},
        "y": {"field": "p0", "type": "quantitative", "scale": {"domain": [0, 0.375], "range": [440, 428]}, "axis": null},
        "y2": {"field": "p1"},
        "color": {"field": "sample", "type": "nominal", "scale": {"domain": ["Angilen", "Roch"], "range": ["#2f69d0", "#e23d16"]}, "legend": null}
      }
    },
    {
      "data": {"name": "isoforms"},
      "transform": [{"filter": "datum.gene === 'AL121845.2' && datum.sample === 'Angilen'"}],
      "mark": {"type": "text", "align": "left", "baseline": "middle", "font": "DejaVu Sans Mono", "fontSize": 8.87, "dx": 52, "color": "#d2d2d2"},
      "encoding": {
        "x": {"field": "start", "type": "quantitative", "scale": {"domain": [63739549, 63744105]}, "axis": null},
        "y": {"datum": 0.1875, "type": "quantitative", "scale": {"domain": [0, 0.375], "range": [440, 428]}, "axis": null},
        "text": {"value": ">\u00a0\u00a0\u00a0\u00a0>\u00a0\u00a0\u00a0\u00a0>"}
      }
    },
    {
      "data": {"name": "isoform_labels"},
      "mark": {"type": "text", "align": "center", "baseline": "middle", "fontSize": 9, "color": "#333333", "dy": 9},
      "encoding": {
        "x": {"field": "pos", "type": "quantitative", "scale": {"domain": [63739549, 63744105]}, "axis": null},
        "y": {"datum": 0, "type": "quantitative", "scale": {"domain": [0, 0.375], "range": [440, 428]}, "axis": null},
        "text": {"field": "gene"}
      }
    },
    {
      "data": {"name": "bases"},
      "mark": {"type": "point", "filled": true, "opacity": 0},
      "encoding": {
        "x": {"datum": 63741970, "type": "quantitative", "scale": {"domain": [63739549, 63744105]}, "axis": null},
        "y": {"datum": 0.5, "type": "quantitative", "scale": {"domain": [0, 1], "range": [479, 467]}, "axis": null},
        "color": {"field": "base", "type": "nominal", "scale": {"domain": ["A", "C", "G", "T", "N"], "range": ["#3aa84a", "#2f69d0", "#f2cf2a", "#e23d16", "#b5b5b5"]},
                  "legend": {"title": "Reference sequence", "legendX": 43, "legendY": 455.5, "labelFontSize": 12, "titlePadding": 15, "columnPadding": 17, "labelOffset": 10}}
      }
    },
    {
      "data": {"values": [{"status": "Track hidden (zoom in to view)"}]},
      "mark": {"type": "text", "align": "center", "baseline": "middle", "fontSize": 9.7, "color": "#3a3a3a"},
      "encoding": {
        "x": {"datum": 63741970, "type": "quantitative", "scale": {"domain": [63739549, 63744105]}, "axis": null},
        "y": {"datum": 0.3, "type": "quantitative", "scale": {"domain": [0, 1], "range": [479, 467]}, "axis": null},
        "text": {"field": "status"}
      }
    }
  ]
}
